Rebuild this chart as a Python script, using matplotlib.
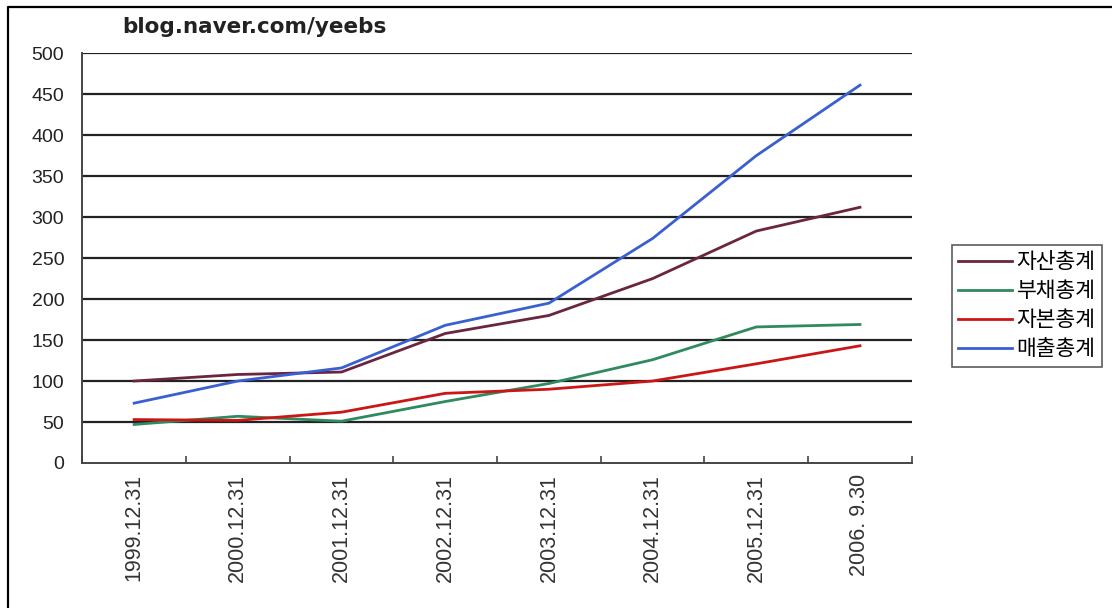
import matplotlib.pyplot as plt
from matplotlib.lines import Line2D

plt.rcParams['font.family'] = ['Liberation Sans', 'Noto Sans CJK KR', 'DejaVu Sans']

# 결산일별 재무 항목 (단위: 억원)
dates = ['1999.12.31', '2000.12.31', '2001.12.31', '2002.12.31',
         '2003.12.31', '2004.12.31', '2005.12.31', '2006. 9.30']
assets = [100, 108, 111, 158, 180, 225, 283, 312]       # 자산총계
liabilities = [47, 57, 51, 75, 97, 126, 166, 169]       # 부채총계
equity = [53, 52, 62, 85, 90, 100, 121, 143]            # 자본총계
sales = [73, 100, 116, 168, 195, 274, 375, 461]         # 매출총계

series = [
    ('자산총계', assets, '#6a2541'),
    ('부채총계', liabilities, '#2f8a5e'),
    ('자본총계', equity, '#cc1616'),
    ('매출총계', sales, '#3a5fd0'),
]

fig = plt.figure(figsize=(11.12, 6.08), dpi=100)
# 바깥 테두리 (왼쪽, 위쪽만 보임)
fig.lines.append(Line2D([0.0075, 0.0075, 1.0], [0.0, 0.988, 0.988],
                        transform=fig.transFigure, color='black', linewidth=1.6))

ax = fig.add_axes([0.074, 0.2385, 0.746, 0.674])
x = range(len(dates))
for name, vals, color in series:
    ax.plot(x, vals, color=color, linewidth=2, label=name)

ax.set_xlim(-0.5, len(dates) - 0.5)
ax.set_ylim(0, 500)
ax.set_yticks(range(0, 501, 50))
for y in range(50, 501, 50):
    ax.axhline(y, color='#222222', linewidth=1.6, zorder=0)

ax.set_xticks(x)
ax.set_xticklabels(dates, rotation=90, fontsize=15.5, color='#333333')
ax.set_xticks([i - 0.5 for i in range(len(dates) + 1)], minor=True)
ax.tick_params(axis='x', which='major', length=0, pad=8)
ax.tick_params(axis='x', which='minor', direction='in', length=5, width=1.2, color='#444444')
ax.tick_params(axis='y', length=0, labelsize=14, pad=13, labelcolor='#222222')

for side in ['top', 'right']:
    ax.spines[side].set_visible(False)
ax.spines['left'].set_color('#444444')
ax.spines['bottom'].set_color('#444444')
ax.spines['left'].set_linewidth(1.4)
ax.spines['bottom'].set_linewidth(1.4)

fig.text(0.11, 0.955, 'blog.naver.com/yeebs', fontsize=15.5, fontweight='bold',
         family='DejaVu Sans', color='#222222', va='center')

leg = fig.legend(loc='center left', bbox_to_anchor=(0.856, 0.497), frameon=True,
                 fancybox=False, edgecolor='#333333',
                 prop={'family': 'Noto Sans CJK KR', 'size': 15.5},
                 handlelength=2.5, handletextpad=0.2, labelspacing=0.33,
                 borderpad=0.3, borderaxespad=0)
leg.get_frame().set_linewidth(1.2)

plt.savefig('out.png', dpi=100)
